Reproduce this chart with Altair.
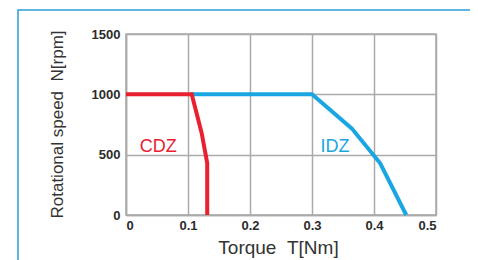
import altair as alt
import pandas as pd

cdz_torque = [0.0, 0.106, 0.122, 0.131, 0.131]
cdz_speed = [1000, 1000, 680, 430, 0]
idz_torque = [0.105, 0.3, 0.364, 0.41, 0.452]
idz_speed = [1000, 1000, 718, 428, 0]

label_text = ["CDZ", "IDZ"]
label_torque = [0.052, 0.337]
label_speed = [563, 563]
label_color = ["#e8202f", "#1aa6e2"]

rows = []
for i, (t, s) in enumerate(zip(idz_torque, idz_speed)):
    rows.append({"series": "IDZ", "order": i, "torque": t, "speed": s})
for i, (t, s) in enumerate(zip(cdz_torque, cdz_speed)):
    rows.append({"series": "CDZ", "order": i, "torque": t, "speed": s})
df = pd.DataFrame(rows)
lab = pd.DataFrame({"text": label_text, "torque": label_torque, "speed": label_speed, "color": label_color})

xs = alt.Scale(domain=[0, 0.5], nice=False)
ys = alt.Scale(domain=[0, 1500], nice=False)

common = dict(ticks=False, grid=True, gridColor="#aaaaaa", gridWidth=1.5,
              domainColor="#aaaaaa", domainWidth=1.5,
              labelFont="Liberation Sans", titleFont="Liberation Sans",
              labelFontSize=13, labelFontWeight="bold", labelColor="#2b2b2b",
              titleFontWeight="normal", titleColor="#333333", titleBaseline="alphabetic")

x_axis = alt.Axis(values=[0, 0.1, 0.2, 0.3, 0.4, 0.5],
                  labelExpr="datum.value == 0 ? '0' : format(datum.value, '.1f')",
                  title="Torque\u00a0\u00a0T[Nm]", labelPadding=4, titleFontSize=19,
                  titleX=152, titleY=38, **common)
y_axis = alt.Axis(values=[0, 500, 1000, 1500], format="d",
                  title="Rotational speed\u00a0\u00a0N[rpm]", labelPadding=6, titleFontSize=17,
                  titleX=-64, titleY=90, **common)

border = alt.Chart(pd.DataFrame({"a": [0]})).mark_rect(
    filled=False, stroke="#2a9fd8", strokeWidth=1.5, clip=False
).encode(x=alt.value(-108), x2=alt.value(347), y=alt.value(-24), y2=alt.value(260))

lines = alt.Chart(df).mark_line(strokeWidth=4, strokeJoin="miter").encode(
    x=alt.X("torque:Q", scale=xs, axis=x_axis),
    y=alt.Y("speed:Q", scale=ys, axis=y_axis),
    color=alt.Color("series:N", scale=alt.Scale(domain=["IDZ", "CDZ"], range=["#1aa6e2", "#e8202f"]), legend=None),
    order="order:Q",
    detail="series:N",
)

texts = alt.Chart(lab).mark_text(fontSize=18, font="Liberation Sans").encode(
    x=alt.X("torque:Q", scale=xs),
    y=alt.Y("speed:Q", scale=ys),
    text="text:N",
    color=alt.Color("color:N", scale=None),
)

chart = alt.layer(border, lines, texts).properties(
    width=310, height=181,
    background="white",
    autosize=alt.AutoSizeParams(type="none"),
    padding={"left": 118, "top": 26, "right": 34, "bottom": 46},
).configure_view(stroke="#aaaaaa", strokeWidth=1.5)

chart.save("out.html", embed_options={"renderer": "svg", "actions": False})
